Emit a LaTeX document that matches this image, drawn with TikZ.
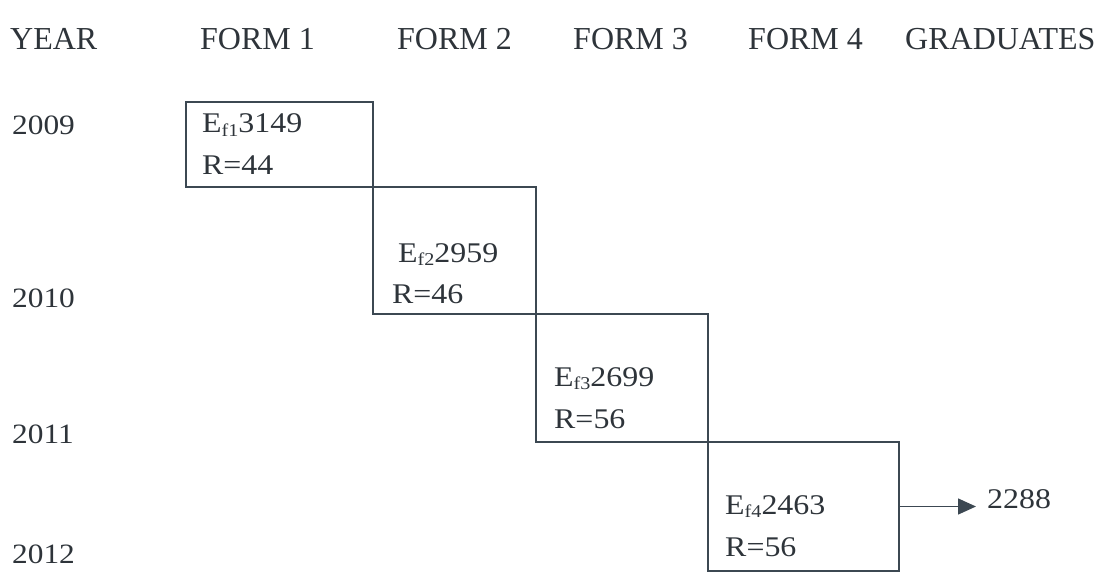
\documentclass[tikz,border=0pt]{standalone}
\usepackage{fontspec}
\setmainfont{Liberation Serif}[FakeStretch=1.12]
\newfontfamily\headfont{Liberation Serif}
\usetikzlibrary{arrows.meta}
\definecolor{ink}{HTML}{2E343A}
\definecolor{rule}{HTML}{3C4852}
\newcommand{\Ef}[2]{E\raisebox{-0.28ex}{\fontsize{18}{20}\selectfont f#1}#2}
\tikzset{
  every node/.style={text=ink, font=\fontsize{28.5}{32}\selectfont, inner sep=0pt},
  lbl/.style={anchor=base west},
  head/.style={lbl, font=\headfont\fontsize{32}{36}\selectfont},
  yr/.style={lbl, font=\fontsize{28}{32}\selectfont},
  cell/.style={draw=rule, line width=1.3pt, rectangle},
  arr/.style={draw=rule, line width=1.4pt, -{Triangle[length=18pt,width=16pt]}}
}
\begin{document}
\begin{tikzpicture}[x=1pt,y=-1pt]
\useasboundingbox (0,0) rectangle (1105,572);
% header
\node[head] (hy) at (10,50) {YEAR};
\node[head] (h1) at (200,50) {FORM 1};
\node[head] (h2) at (397,50) {FORM 2};
\node[head] (h3) at (573,50) {FORM 3};
\node[head] (h4) at (748,50) {FORM 4};
\node[head] (hg) at (905,50) {GRADUATES};
% years
\node[yr] (y1) at (12,135) {2009};
\node[yr] (y2) at (12,307) {2010};
\node[yr] (y3) at (12,443) {2011};
\node[yr] (y4) at (12,563) {2012};
% boxes
\node[cell, minimum width=187pt, minimum height=85pt] (b1) at (279.5,144.5) {};
\node[cell, minimum width=163pt, minimum height=127pt] (b2) at (454.5,250.5) {};
\node[cell, minimum width=172pt, minimum height=128pt] (b3) at (622,378) {};
\node[cell, minimum width=191pt, minimum height=129pt] (b4) at (803.5,506.5) {};
% box texts
\node[lbl] (e1) at (202,133) {\Ef{1}{3149}};
\node[lbl] (r1) at (202,175) {R=44};
\node[lbl] (e2) at (398,262) {\Ef{2}{2959}};
\node[lbl] (r2) at (392,303) {R=46};
\node[lbl] (e3) at (554,386) {\Ef{3}{2699}};
\node[lbl] (r3) at (554,428) {R=56};
\node[lbl] (e4) at (725,514) {\Ef{4}{2463}};
\node[lbl] (r4) at (725,556) {R=56};
% graduates
\node[lbl] (g) at (987,508) {2288};
\coordinate (tip) at ([xshift=-11pt]g.west |- b4.east);
\draw[arr] (b4.east) -- (tip);
\end{tikzpicture}
\end{document}
